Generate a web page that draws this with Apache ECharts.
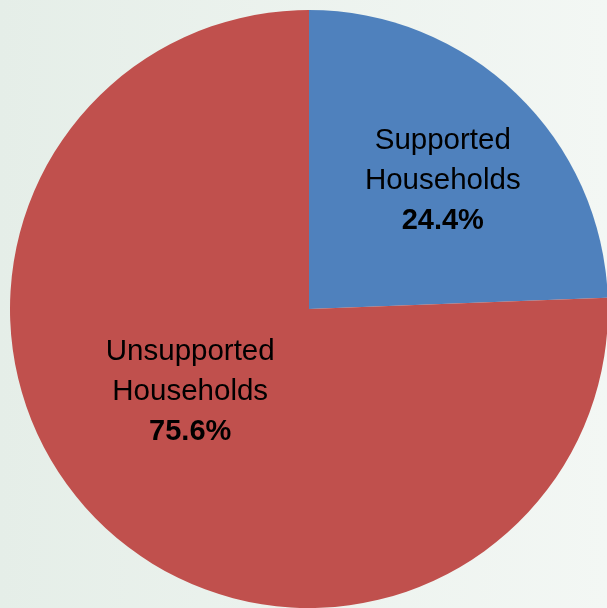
<!DOCTYPE html>
<html>
<head>
<meta charset="utf-8">
<script src="https://cdn.jsdelivr.net/npm/echarts@6/dist/echarts.min.js"></script>
<style>
html,body{margin:0;padding:0;width:607px;height:608px;overflow:hidden;}
#c{width:607px;height:608px;}
</style>
</head>
<body>
<div id="c"></div>
<script>
const categories = ['Supported\nHouseholds', 'Unsupported\nHouseholds'];
const values = [24.4, 75.6];
const colors = ['#4f81bd', '#c0504d'];
const labelShift = [[28, -18], [-13, -27]];

const chart = echarts.init(document.getElementById('c'), null, {renderer: 'canvas'});
chart.setOption({
  backgroundColor: {
    type: 'linear', x: 0, y: 0, x2: 1, y2: 0,
    colorStops: [{offset: 0, color: '#e5eee8'}, {offset: 1, color: '#f3f7f4'}]
  },
  animation: false,
  series: [{
    type: 'pie',
    center: [309, 309],
    radius: [0, 299],
    startAngle: 90,
    clockwise: true,
    data: categories.map((c, i) => ({name: c, value: values[i], itemStyle: {color: colors[i]}})),
    label: {
      show: true,
      position: 'inside',
      formatter: p => '{n|' + p.name + '}\n{v|' + p.value.toFixed(1) + '%}',
      rich: {
        n: {fontFamily: 'Liberation Sans', fontSize: 29.5, color: '#000', lineHeight: 40, align: 'center'},
        v: {fontFamily: 'Liberation Sans', fontSize: 29, fontWeight: 'bold', color: '#000', lineHeight: 40, align: 'center'}
      }
    },
    labelLayout: p => ({dx: labelShift[p.dataIndex][0], dy: labelShift[p.dataIndex][1]}),
    labelLine: {show: false},
    itemStyle: {borderWidth: 0}
  }]
});
</script>
</body>
</html>
